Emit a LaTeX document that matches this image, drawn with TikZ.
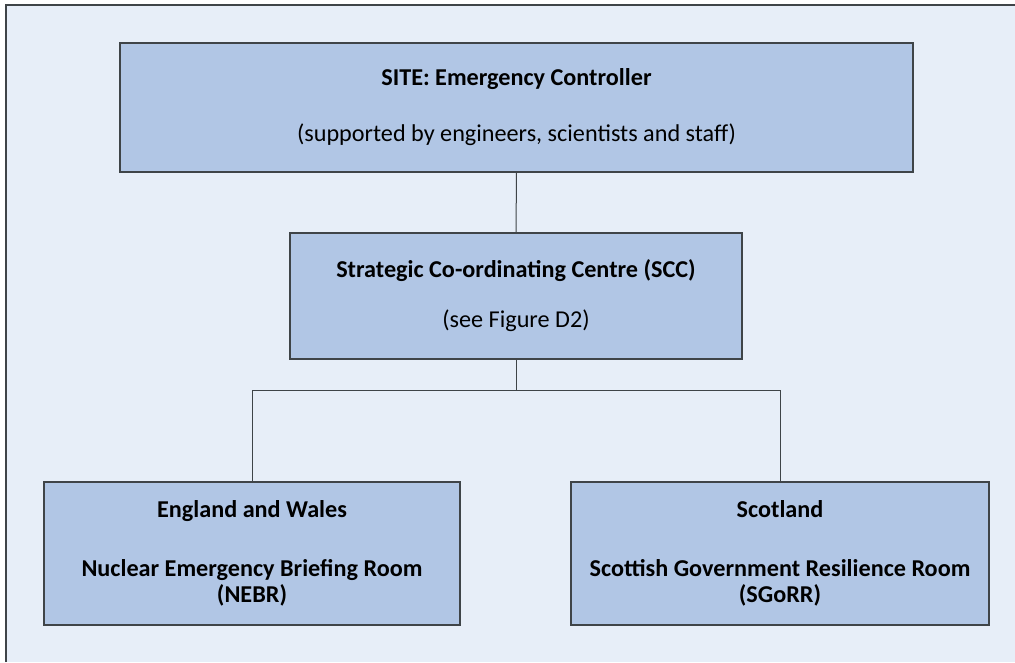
\documentclass[tikz,border=0pt]{standalone}
\usepackage{fontspec}
\setmainfont{Carlito}
\usepackage{xcolor}
\definecolor{paneblue}{HTML}{E7EEF8}
\definecolor{boxblue}{HTML}{B1C6E5}
\definecolor{edgegrey}{HTML}{3F4448}
\tikzset{
  orgbox/.style={draw=edgegrey, line width=1.1pt, fill=boxblue, align=center,
    inner sep=0pt, font=\fontsize{24.2}{26}\selectfont},
  link/.style={draw=edgegrey, line width=1pt}
}

\begin{document}
\begin{tikzpicture}[x=1pt,y=-1pt]
    \useasboundingbox (0,0) rectangle (1015,662);
    \fill[paneblue] (6,5) rectangle (1015,662);
    \draw[edgegrey, line width=1.2pt] (6,662) -- (6,5) -- (1015,5);
    \node[orgbox, minimum width=793pt, minimum height=129pt] (site) at (516.5,107.5)
        {\textbf{SITE: Emergency Controller}\\[30pt](supported by engineers, scientists and staff)};
    \node[orgbox, minimum width=452pt, minimum height=126pt] (scc) at (516,296)
        {\textbf{Strategic Co-ordinating Centre (SCC)}\\[24pt](see Figure D2)};
    \node[orgbox, minimum width=416pt, minimum height=143pt] (ew) at (252,553.5)
        {\textbf{England and Wales}\\[33pt]\textbf{Nuclear Emergency Briefing Room}\\\textbf{(NEBR)}};
    \node[orgbox, minimum width=418pt, minimum height=143pt] (scot) at (780,553.5)
        {\textbf{Scotland}\\[33pt]\textbf{Scottish Government Resilience Room}\\\textbf{(SGoRR)}};
    \draw[link] (site.south) -- (scc.north);
    \draw[link] (scc.south) -- ++(0,31) coordinate (split);
    \draw[link] (split) -| (ew.north);
    \draw[link] (split) -| (scot.north);
\end{tikzpicture}
\end{document}
